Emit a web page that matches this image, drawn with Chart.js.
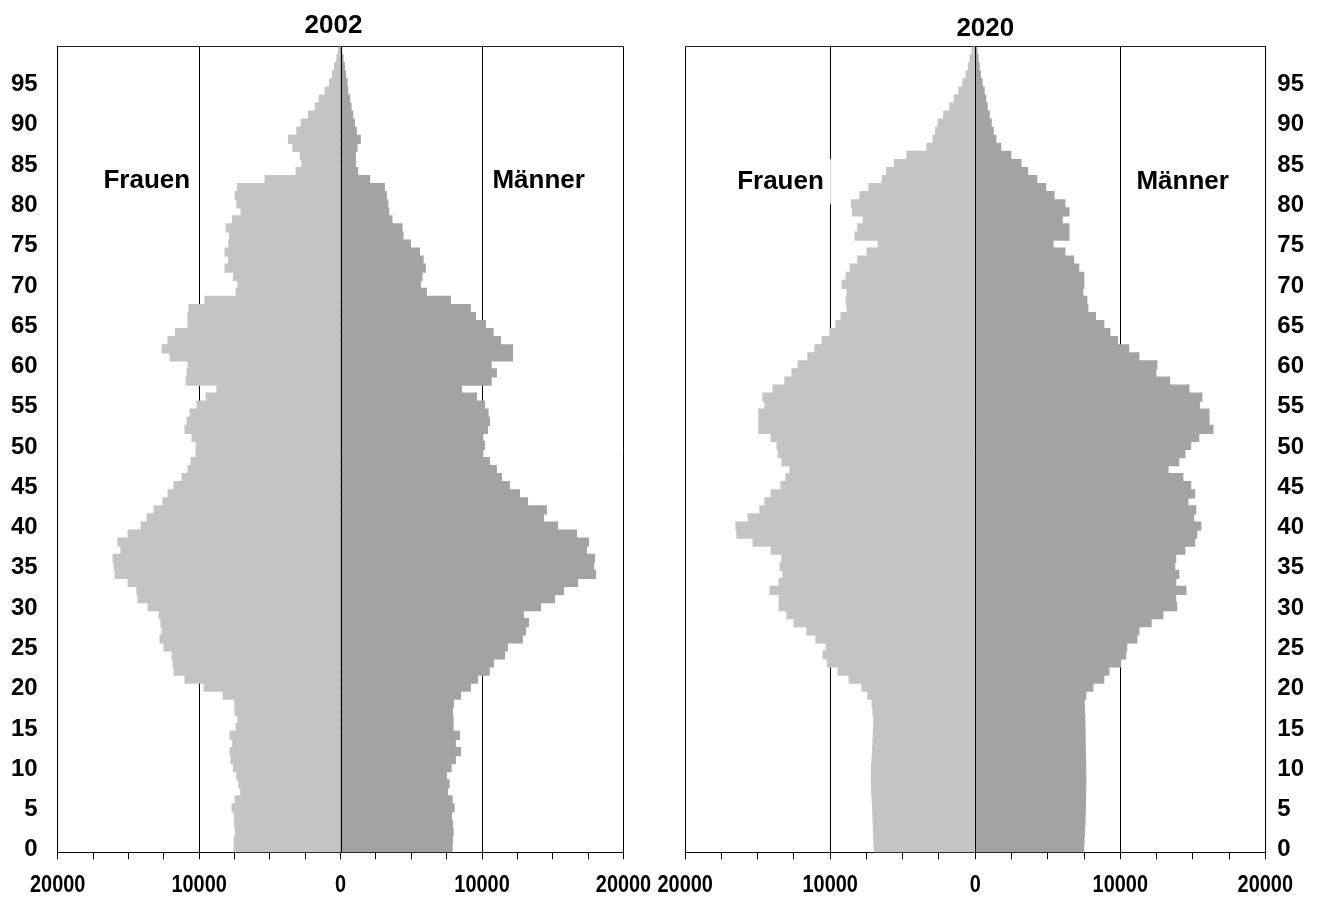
<!DOCTYPE html>
<html>
<head>
<meta charset="utf-8">
<script src="https://cdn.jsdelivr.net/npm/chart.js@4.4.1/dist/chart.umd.min.js"></script>
<style>
  html, body { margin: 0; padding: 0; background: #ffffff; }
  #wrap { position: relative; width: 1318px; height: 899px; overflow: hidden; }
  #wrap canvas { position: absolute; left: 0; top: 0; }
</style>
</head>
<body>
<div id="wrap">
  <canvas id="c2002" width="1318" height="899"></canvas>
  <canvas id="c2020" width="1318" height="899"></canvas>
</div>
<script>
// ---------- data (index = age 0 .. 99) ----------
const ages = Array.from({ length: 100 }, (_, i) => i);

const years = ['2002', '2020'];
const sideLabels = ['Frauen', 'Männer'];
const yTickLabels = [0, 5, 10, 15, 20, 25, 30, 35, 40, 45, 50, 55, 60, 65, 70, 75, 80, 85, 90, 95];
const xTickLabels = [-20000, -10000, 0, 10000, 20000];

const female2002 = [
  7520, 7520, 7430, 7480, 7520, 7670, 7450, 7050, 7190, 7330,
  7570, 7740, 7810, 7620, 7810, 7380, 7260, 7450, 7480, 8300,
  9650, 10990, 11770, 11840, 11910, 12480, 12760, 12620, 12690, 12830,
  13610, 14320, 14390, 15020, 15940, 16010, 16080, 15520, 15730, 15020,
  14100, 13680, 13180, 12550, 12190, 11770, 11200, 10780, 10570, 10210,
  10210, 10500, 10990, 10850, 10640, 10140, 9500, 8730, 10920, 10850,
  10780, 12050, 12620, 12190, 11670, 10780, 10780, 10710, 9580, 7380,
  7260, 7570, 8160, 7920, 8160, 7900, 7850, 8090, 7640, 7030,
  7330, 7450, 7290, 5330, 3140, 2740, 2850, 3370, 3680, 3090,
  2780, 2260, 1790, 1510, 1085, 780, 566, 425, 260, 140
];
const male2002 = [
  7880, 7900, 7950, 7900, 7830, 8020, 7880, 7550, 7670, 7480,
  7810, 8110, 8470, 8110, 8400, 7950, 7950, 7900, 7970, 8470,
  9170, 9670, 10500, 10800, 11580, 11790, 12850, 13070, 13280, 12920,
  14130, 15120, 15750, 16750, 18020, 17880, 17950, 17380, 17520, 16670,
  15330, 14340, 14550, 13210, 12640, 11930, 11370, 11010, 10520, 10050,
  10170, 10050, 10380, 10520, 10420, 10170, 9600, 8540, 10640, 11010,
  10640, 12150, 12150, 11300, 10780, 10240, 9530, 9170, 7760, 6060,
  5640, 5750, 5990, 5830, 5570, 4930, 4410, 4340, 3630, 3400,
  3330, 3230, 3090, 2050, 1200, 1040, 1040, 1160, 1390, 1110,
  970, 850, 730, 640, 500, 450, 350, 260, 165, 70
];
const female2020 = [
  6970, 6990, 7010, 7030, 7050, 7080, 7100, 7140, 7160, 7160,
  7150, 7110, 7080, 7050, 7030, 7000, 7000, 7050, 7110, 7410,
  7810, 8690, 9460, 10190, 10490, 10280, 10980, 11610, 12490, 12980,
  13520, 13520, 14150, 13520, 13260, 13450, 13330, 14080, 15310, 16430,
  16500, 15660, 14850, 14500, 14080, 13400, 13050, 12770, 13330, 13590,
  13660, 14080, 14920, 14920, 14920, 14500, 14640, 13940, 13120, 12630,
  12210, 11540, 11050, 10560, 10020, 9600, 9250, 8830, 8900, 8830,
  9180, 8900, 8620, 8090, 7460, 6690, 8280, 8090, 7720, 8460,
  8530, 7950, 7320, 6410, 6110, 5570, 4710, 3330, 2910, 2730,
  2560, 2170, 1750, 1450, 1120, 860, 630, 470, 350, 210
];
const male2020 = [
  7470, 7500, 7530, 7550, 7570, 7590, 7600, 7610, 7620, 7620,
  7610, 7600, 7590, 7580, 7570, 7560, 7550, 7530, 7510, 7620,
  8110, 8860, 9210, 10020, 10370, 10440, 11140, 11280, 12120, 12940,
  13890, 13820, 14520, 13820, 14030, 13750, 13820, 14450, 15130, 15270,
  15550, 15060, 15200, 14660, 15130, 14850, 14310, 13290, 14030, 14450,
  14850, 15410, 16390, 16110, 16110, 15450, 15620, 14730, 13400, 12450,
  12520, 11280, 10580, 9810, 9280, 8860, 8280, 7760, 7690, 7410,
  7480, 7480, 7130, 6780, 6180, 5360, 6460, 6460, 5990, 6460,
  6180, 5430, 4850, 4240, 3610, 3150, 2450, 1750, 1420, 1240,
  1100, 960, 820, 720, 610, 470, 350, 260, 190, 120
];

// ---------- styling ----------
const FONT = "'Liberation Sans', Arial, Helvetica, sans-serif";
const FEMALE_COLOR = '#c4c4c4';
const MALE_COLOR = '#a3a3a3';
const X_TICK_SIZE = 24;
const X_TICK_SQUEEZE = 0.83;   // the original axis labels use a narrow face
const X_TICK_LEN = 7;
const X_TICK_PAD = 12;

const annotPlugin = {
  id: 'annot',
  afterDatasetsDraw(chart, args, opts) {
    const { ctx, chartArea: a, scales: { x, y } } = chart;
    ctx.save();
    // zero axis line on top of the bars
    const x0 = Math.round(x.getPixelForValue(0)) + 0.5;
    ctx.strokeStyle = '#000';
    ctx.lineWidth = 1;
    ctx.beginPath();
    ctx.moveTo(x0, a.top);
    ctx.lineTo(x0, a.bottom);
    ctx.stroke();
    // side labels (Frauen / Männer) with white boxes
    ctx.font = 'bold ' + opts.labelSize + 'px ' + FONT;
    ctx.textAlign = 'center';
    ctx.textBaseline = 'middle';
    opts.labels.forEach(l => {
      const px = x.getPixelForValue(l.x);
      const py = y.getPixelForValue(l.y);
      const w = ctx.measureText(l.text).width;
      ctx.fillStyle = '#ffffff';
      ctx.fillRect(px - w / 2 - 7, py - 22.5, w + 14, 45);
      ctx.fillStyle = '#000';
      ctx.fillText(l.text, px, py);
    });
    // x-axis tick labels in a narrow (horizontally condensed) face
    ctx.font = 'bold ' + X_TICK_SIZE + 'px ' + FONT;
    const ly = a.bottom + X_TICK_LEN + X_TICK_PAD + X_TICK_SIZE * 0.6;
    xTickLabels.forEach(v => {
      ctx.save();
      ctx.translate(x.getPixelForValue(v), ly);
      ctx.scale(X_TICK_SQUEEZE, 1);
      ctx.fillText(String(Math.abs(v)), 0, 0);
      ctx.restore();
    });
    // title
    ctx.font = 'bold ' + opts.titleSize + 'px ' + FONT;
    ctx.fillText(opts.title, opts.titleX, opts.titleY);
    ctx.restore();
  }
};

function makePyramid(canvasId, female, male, cfg) {
  const barStyle = {
    borderWidth: 0,
    grouped: false,
    barPercentage: 1,
    categoryPercentage: 1,
    inflateAmount: 0.6
  };
  return new Chart(document.getElementById(canvasId), {
    type: 'bar',
    data: {
      datasets: [
        Object.assign({
          label: sideLabels[0],
          data: ages.map((a, i) => ({ x: -female[i], y: a + 0.5 })),
          backgroundColor: FEMALE_COLOR
        }, barStyle),
        Object.assign({
          label: sideLabels[1],
          data: ages.map((a, i) => ({ x: male[i], y: a + 0.5 })),
          backgroundColor: MALE_COLOR
        }, barStyle)
      ]
    },
    options: {
      indexAxis: 'y',
      responsive: false,
      animation: false,
      devicePixelRatio: 1,
      layout: { padding: { left: cfg.padL, right: cfg.padR, top: 46.7, bottom: 0 } },
      plugins: {
        legend: { display: false },
        tooltip: { enabled: false },
        title: { display: false },
        annot: {
          labels: cfg.labels,
          labelSize: 26,
          title: cfg.title,
          titleSize: 26,
          titleX: cfg.titleX,
          titleY: cfg.titleY
        }
      },
      scales: {
        x: {
          type: 'linear',
          min: xTickLabels[0],
          max: xTickLabels[xTickLabels.length - 1],
          afterFit: s => { s.height = 46.7; },
          ticks: {
            stepSize: 2500,
            autoSkip: false,
            maxRotation: 0,
            padding: X_TICK_PAD,
            color: '#000',
            font: { family: FONT, size: X_TICK_SIZE, weight: 'bold' },
            callback: () => ''
          },
          grid: {
            color: c => (c.tick && xTickLabels.includes(c.tick.value)) ? '#000' : 'rgba(0,0,0,0)',
            tickColor: '#000',
            tickLength: X_TICK_LEN,
            lineWidth: 1,
            drawOnChartArea: true,
            drawTicks: true
          },
          border: { display: true, color: '#000', width: 1 }
        },
        y: {
          type: 'linear',
          position: cfg.yPos,
          min: 0,
          max: 100,
          offset: false,
          afterFit: s => { s.width = cfg.yWidth; },
          ticks: {
            stepSize: 5,
            autoSkip: false,
            padding: cfg.yPad,
            labelOffset: -2.5,
            color: '#000',
            font: { family: FONT, size: 24, weight: 'bold' },
            callback: v => yTickLabels.includes(v) ? String(v) : ''
          },
          grid: {
            offset: false,
            drawTicks: false,
            color: c => (c.tick && c.tick.value === 100) ? '#222' : 'rgba(0,0,0,0)',
            lineWidth: 1
          },
          border: { display: true, color: '#000', width: 1 }
        }
      }
    },
    plugins: [annotPlugin]
  });
}

makePyramid('c2002', female2002, male2002, {
  padL: 0, padR: 694.5, yPos: 'left', yWidth: 57.7, yPad: 20,
  title: years[0], titleX: 333.5, titleY: 25.5,
  labels: [
    { text: sideLabels[0], x: -13700, y: 83.3 },
    { text: sideLabels[1], x: 14000, y: 83.3 }
  ]
});

makePyramid('c2020', female2020, male2020, {
  padL: 685.2, padR: 0, yPos: 'right', yWidth: 52.7, yPad: 12,
  title: years[1], titleX: 985.3, titleY: 29,
  labels: [
    { text: sideLabels[0], x: -13430, y: 83.25 },
    { text: sideLabels[1], x: 14300, y: 83.25 }
  ]
});
</script>
</body>
</html>
